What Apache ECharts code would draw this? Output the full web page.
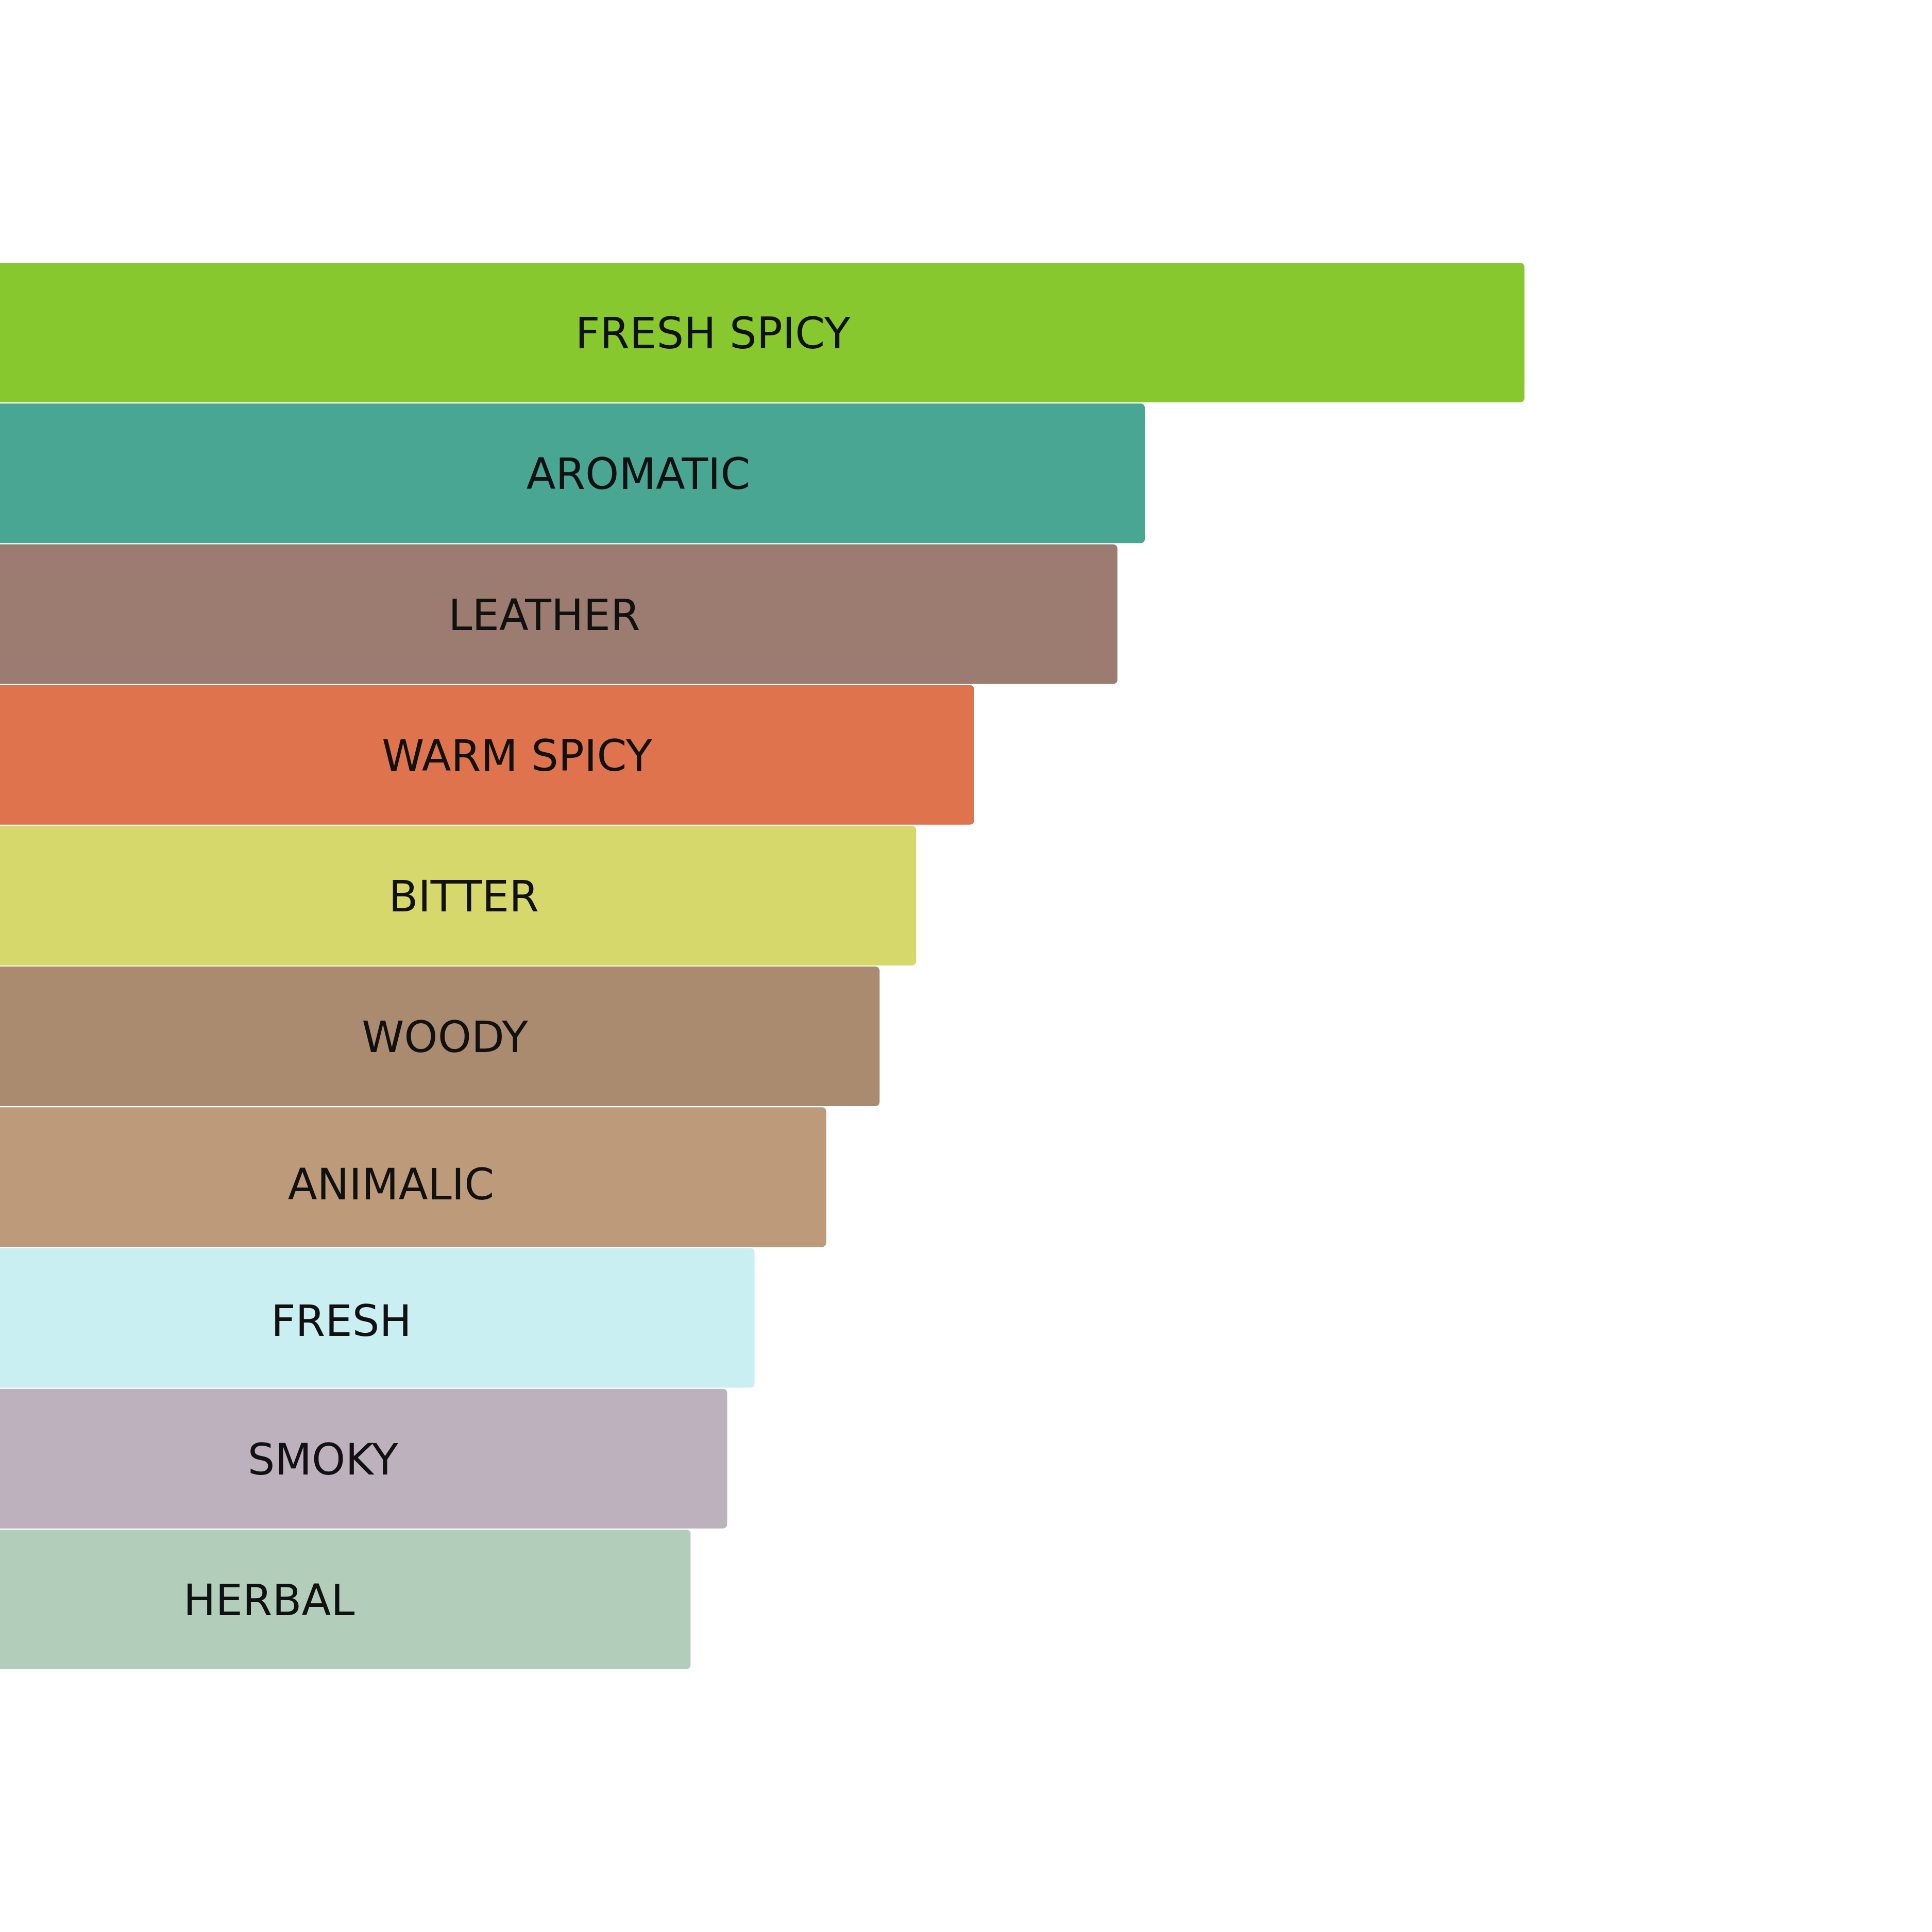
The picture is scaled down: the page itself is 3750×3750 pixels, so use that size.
<!DOCTYPE html>
<html>
<head>
<meta charset="utf-8">
<script src="https://cdn.jsdelivr.net/npm/echarts@6/dist/echarts.min.js"></script>
<style>
html, body { margin: 0; padding: 0; background: #ffffff; }
#chart { width: 3750px; height: 3750px; }
</style>
</head>
<body>
<div id="chart"></div>
<script>
// accords, top to bottom
var accords = ['FRESH SPICY', 'AROMATIC', 'LEATHER', 'WARM SPICY', 'BITTER', 'WOODY', 'ANIMALIC', 'FRESH', 'SMOKY', 'HERBAL'];
// relative strength (top accord = 100)
var strengths = [100, 75.1, 73.3, 63.9, 60.1, 57.7, 54.2, 49.5, 47.7, 45.3];
var colors = ['#86c82d', '#48a693', '#9c7b70', '#df734e', '#d6d86b', '#ab8b6f', '#bd9a79', '#caeff3', '#bcb1bd', '#b2cdb9'];
// labels are not quite centred in the original
var labelNudge = [[-96, 9], [128, 9], [-28, 9], [58, 9], [11, 9], [10, 9], [-43, 22], [-70, 13], [-79, 9], [-148, 9]];

var chart = echarts.init(document.getElementById('chart'));

var barData = [];
accords.forEach(function (name, i) {
	barData.push({
		name: name,
		value: strengths[i],
		itemStyle: { color: colors[i] },
		label: { offset: labelNudge[i] }
	});
});

var option = {
	backgroundColor: '#ffffff',
	animation: false,
	grid: {
		left: 0,
		right: 791,
		top: 509,
		bottom: 509,
		containLabel: false
	},
	xAxis: {
		type: 'value',
		min: 0,
		max: 100,
		show: false
	},
	yAxis: {
		type: 'category',
		inverse: true,
		data: accords,
		show: false
	},
	series: [
		{
			type: 'bar',
			barCategoryGap: '0.8%',
			data: barData,
			itemStyle: {
				borderRadius: [0, 8, 8, 0]
			},
			label: {
				show: true,
				position: 'inside',
				formatter: '{b}',
				fontFamily: 'DejaVu Sans',
				fontSize: 83,
				color: '#111111'
			}
		}
	]
};
chart.setOption(option);
</script>
</body>
</html>
